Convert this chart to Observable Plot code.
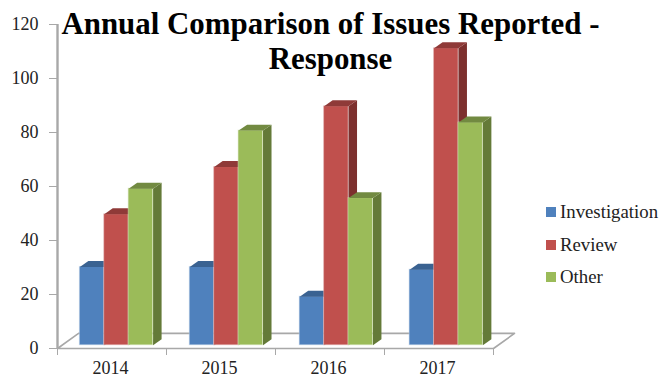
<!DOCTYPE html>
<html>
<head>
<meta charset="utf-8">
<script src="https://cdn.jsdelivr.net/npm/d3@7"></script>
<script src="https://cdn.jsdelivr.net/npm/@observablehq/plot@0.6"></script>
<style>
  html, body { margin: 0; padding: 0; background: #fff; }
  #chart { position: relative; width: 661px; height: 378px; overflow: hidden; font-family: "Liberation Serif", serif; color: #222; }
  #title { position: absolute; left: 0; top: 6px; width: 661px; text-align: center; font-weight: bold; font-size: 30.9px; line-height: 35px; color: #000; }
  #legend { position: absolute; left: 546px; top: 196px; font-size: 18.8px; }
  .entry { display: flex; align-items: center; height: 32.5px; }
  .swatch { width: 10px; height: 10px; margin-right: 4px; }
  svg { display: block; }
</style>
</head>
<body>
<div id="chart">
  <div id="plot"></div>
  <div id="title">Annual Comparison of Issues Reported -<br>Response</div>
  <div id="legend"></div>
</div>
<script>
const years = ["2014", "2015", "2016", "2017"];
const seriesNames = ["Investigation", "Review", "Other"];
const investigation = [29, 29, 18, 28];
const review = [48.5, 66, 88.5, 110];
const other = [58, 79.5, 54.5, 82.5];

const frontColors = ["#4f81bd", "#c0504d", "#9bbb59"];
const topColors = ["#3a6291", "#8f3a38", "#728a41"];
const sideColors = ["#375a85", "#7d302e", "#647a38"];
const edgeColors = ["#c3d5ea", "#e6bcbb", "#d8e5bd"];

// Oblique projection, expressed in axis units
const barWidth = 0.224;
const depthX = 0.078;
const depthY = 2.2;
const baseLift = 1.2;
const groupStart = 0.205;
const groupStep = 1.0085;
const floorX = 0.193;
const floorY = 5.6;

const values = [investigation, review, other];
const bars = values.flatMap((vals, s) => vals.map((v, i) => {
  const x0 = groupStart + i * groupStep + s * barWidth;
  return {s, i, x0, x1: x0 + barWidth, y0: baseLift, y1: v + baseLift};
}));

const sidePoints = b => [
  [b.x1, b.y0], [b.x1 + depthX, b.y0 + depthY], [b.x1 + depthX, b.y1 + depthY], [b.x1, b.y1]
].map(([x, y]) => ({x, y, i: b.i}));

const topPoints = b => [
  [b.x0, b.y1], [b.x1, b.y1], [b.x1 + depthX, b.y1 + depthY], [b.x0 + depthX, b.y1 + depthY]
].map(([x, y]) => ({x, y, i: b.i}));

const barMarks = seriesNames.flatMap((_, s) => {
  const own = bars.filter(b => b.s === s);
  return [
    Plot.rect(own, {
      x1: "x0", x2: "x1", y1: "y0", y2: "y1",
      fill: frontColors[s], stroke: edgeColors[s], strokeWidth: 1, strokeOpacity: 0.5
    }),
    Plot.line(own.flatMap(sidePoints), {x: "x", y: "y", z: "i", fill: sideColors[s], stroke: "none"}),
    Plot.line(own.flatMap(topPoints), {x: "x", y: "y", z: "i", fill: topColors[s], stroke: "none"})
  ];
});

const floorOutline = [
  {x: 0, y: 0},
  {x: floorX, y: floorY},
  {x: 4 + floorX, y: floorY},
  {x: 4, y: 0},
  {x: 0, y: 0}
];

const axisGray = "#a8a8a8";

const chart = Plot.plot({
  width: 661,
  height: 378,
  marginLeft: 57,
  marginRight: 168,
  marginTop: 24,
  marginBottom: 30,
  style: {background: "transparent", fontFamily: "'Liberation Serif', serif", fontSize: "18px", color: "#222"},
  x: {domain: [0, 4]},
  y: {domain: [0, 120]},
  marks: [
    Plot.line(floorOutline, {x: "x", y: "y", stroke: axisGray, strokeWidth: 1.6}),
    Plot.ruleX([0], {y1: 0, y2: 120, stroke: axisGray, strokeWidth: 2.4}),
    Plot.axisY({
      ticks: d3.range(0, 121, 20),
      tickSize: 8,
      tickPadding: 11,
      stroke: axisGray,
      fill: "#222",
      label: null,
      fontSize: 18
    }),
    Plot.axisX({
      ticks: [0, 1, 2, 3, 4],
      tickSize: 7,
      tickFormat: () => "",
      stroke: axisGray,
      label: null
    }),
    Plot.axisX({
      ticks: years.map((_, i) => i + 0.5),
      tickSize: 0,
      tickPadding: 13,
      tickFormat: d => years[d - 0.5],
      fill: "#222",
      label: null,
      fontSize: 18,
      dx: -1.5
    }),
    ...barMarks
  ]
});

document.getElementById("plot").append(chart);

const legend = d3.select("#legend");
seriesNames.forEach((name, s) => {
  const row = legend.append("div").attr("class", "entry");
  row.append("div").attr("class", "swatch").style("background", frontColors[s]);
  row.append("span").text(name);
});
</script>
</body>
</html>
